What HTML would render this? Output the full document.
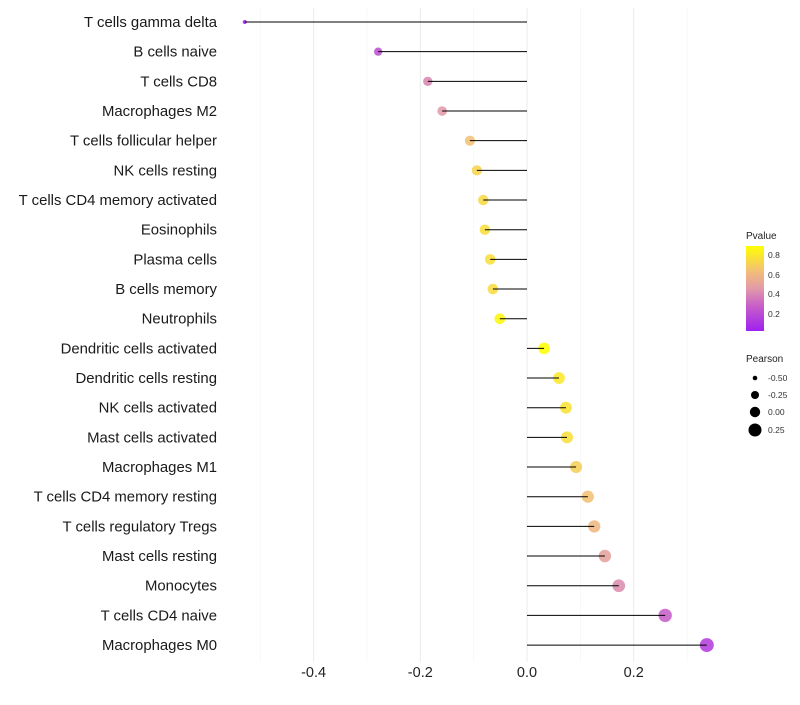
<!DOCTYPE html>
<html><head><meta charset="utf-8"><style>
body{margin:0;background:#fff;font-family:"Liberation Sans",sans-serif}
</style></head><body>
<svg id="chart" width="800" height="700" xmlns="http://www.w3.org/2000/svg">
<defs><linearGradient id="pg" x1="0" y1="1" x2="0" y2="0">
<stop offset="0" stop-color="#A020F0"/><stop offset="0.3" stop-color="#C860C8"/><stop offset="0.5" stop-color="#E29AA8"/><stop offset="0.7" stop-color="#F2BE78"/><stop offset="1" stop-color="#FFFF00"/></linearGradient></defs>
<g id="grid"></g><g id="marks"></g><g id="labels"></g>
<g id="legend">
<text x="746" y="239" font-size="10" fill="#222">Pvalue</text>
<rect x="746" y="246" width="18" height="85" fill="url(#pg)"/>
<text x="768" y="258" font-size="8.5" fill="#333">0.8</text>
<text x="768" y="278" font-size="8.5" fill="#333">0.6</text>
<text x="768" y="297" font-size="8.5" fill="#333">0.4</text>
<text x="768" y="317" font-size="8.5" fill="#333">0.2</text>
<text x="746" y="362" font-size="10" fill="#222">Pearson</text>
<circle cx="755" cy="378" r="2.3" fill="#000"/><text x="768" y="381" font-size="8.5" fill="#333">-0.50</text>
<circle cx="755" cy="395" r="4" fill="#000"/><text x="768" y="398" font-size="8.5" fill="#333">-0.25</text>
<circle cx="755" cy="412" r="5.2" fill="#000"/><text x="768" y="415" font-size="8.5" fill="#333">0.00</text>
<circle cx="755" cy="430" r="6.5" fill="#000"/><text x="768" y="433" font-size="8.5" fill="#333">0.25</text>
</g>
</svg>
<script>
const categories=["T cells gamma delta","B cells naive","T cells CD8","Macrophages M2","T cells follicular helper","NK cells resting","T cells CD4 memory activated","Eosinophils","Plasma cells","B cells memory","Neutrophils","Dendritic cells activated","Dendritic cells resting","NK cells activated","Mast cells activated","Macrophages M1","T cells CD4 memory resting","T cells regulatory  Tregs ","Mast cells resting","Monocytes","T cells CD4 naive","Macrophages M0"];
const pearson=[-0.529,-0.279,-0.186,-0.159,-0.107,-0.094,-0.082,-0.079,-0.069,-0.064,-0.051,0.032,0.060,0.073,0.075,0.092,0.114,0.126,0.146,0.172,0.259,0.337];
const pvalues=[0.03,0.22,0.4,0.46,0.64,0.72,0.74,0.76,0.76,0.75,0.86,0.9,0.8,0.78,0.76,0.7,0.64,0.6,0.5,0.42,0.28,0.15];
const tickValues=[-0.4,-0.2,0.0,0.2];
const tickLabels=["-0.4","-0.2","0.0","0.2"];
const NS="http://www.w3.org/2000/svg";
const x=v=>527+v*533.5;
const y=i=>22+i*29.67;
const rad=v=>Math.sqrt(Math.max(2,31.5+51.9*v));
const stops=[[0,[160,32,240]],[0.3,[200,96,200]],[0.5,[226,154,168]],[0.7,[242,190,120]],[1,[255,255,0]]];
function col(p){let t=Math.min(1,Math.max(0,(p-0.03)/0.86));for(let k=1;k<stops.length;k++){if(t<=stops[k][0]){const a=stops[k-1],b=stops[k],f=(t-a[0])/(b[0]-a[0]);return "rgb("+a[1].map((c,j)=>Math.round(c+(b[1][j]-c)*f)).join(",")+")";}}return "rgb(255,255,0)";}
function mk(tag,at,parent){const e=document.createElementNS(NS,tag);for(const k in at)e.setAttribute(k,at[k]);parent.appendChild(e);return e;}
const grid=document.getElementById('grid'),marks=document.getElementById('marks'),labels=document.getElementById('labels');
for(let v=-0.5;v<=0.31;v+=0.1){const g=mk('line',{x1:x(v),x2:x(v),y1:8,y2:662,stroke:Math.abs(Math.round(v*10))%2===0?'#ebebeb':'#f4f4f4','stroke-width':Math.abs(Math.round(v*10))%2===0?1:0.6},grid);

}
tickValues.forEach((v,i)=>{const t=mk('text',{x:x(v),y:677,'font-size':14.5,'text-anchor':'middle',fill:'#222'},labels);t.textContent=tickLabels[i];

});
categories.forEach((c,i)=>{
const t=mk('text',{x:217,y:y(i)+5,'font-size':14.9,'text-anchor':'end',fill:'#1a1a1a'},labels);t.textContent=c;


const d=mk('circle',{cx:x(pearson[i]),cy:y(i),r:rad(pearson[i]),fill:col(pvalues[i]),'fill-opacity':0.88},marks);


const l=mk('line',{x1:x(0),x2:x(pearson[i]),y1:y(i),y2:y(i),stroke:'#000','stroke-width':1},marks);


});
</script>
</body></html>
